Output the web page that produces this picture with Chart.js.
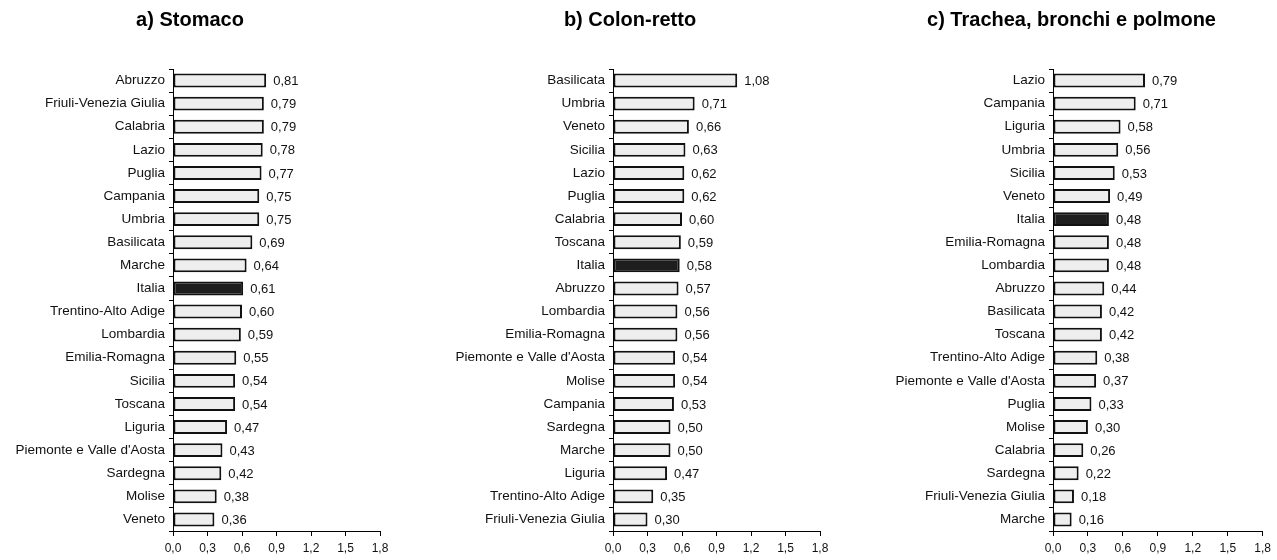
<!DOCTYPE html>
<html>
<head>
<meta charset="utf-8">
<script src="https://cdn.jsdelivr.net/npm/chart.js@4.4.1/dist/chart.umd.min.js"></script>
<style>
  html, body { margin: 0; padding: 0; background: #fff; }
  body { width: 1277px; height: 560px; position: relative; overflow: hidden; }
  canvas { position: absolute; top: 0; }
</style>
</head>
<body>
<canvas id="cStomaco" width="400" height="560" style="left:0px"></canvas>
<canvas id="cColon" width="400" height="560" style="left:440px"></canvas>
<canvas id="cPolmone" width="396" height="560" style="left:880px"></canvas>
<script>
// a) Stomaco
const stomacoRegions = ['Abruzzo', 'Friuli-Venezia Giulia', 'Calabria', 'Lazio', 'Puglia', 'Campania',
  'Umbria', 'Basilicata', 'Marche', 'Italia', 'Trentino-Alto Adige', 'Lombardia', 'Emilia-Romagna',
  'Sicilia', 'Toscana', 'Liguria', "Piemonte e Valle d'Aosta", 'Sardegna', 'Molise', 'Veneto'];
const stomacoValues = [0.81, 0.79, 0.79, 0.78, 0.77, 0.75, 0.75, 0.69, 0.64, 0.61, 0.60, 0.59, 0.55,
  0.54, 0.54, 0.47, 0.43, 0.42, 0.38, 0.36];

// b) Colon-retto
const colonRegions = ['Basilicata', 'Umbria', 'Veneto', 'Sicilia', 'Lazio', 'Puglia', 'Calabria',
  'Toscana', 'Italia', 'Abruzzo', 'Lombardia', 'Emilia-Romagna', "Piemonte e Valle d'Aosta", 'Molise',
  'Campania', 'Sardegna', 'Marche', 'Liguria', 'Trentino-Alto Adige', 'Friuli-Venezia Giulia'];
const colonValues = [1.08, 0.71, 0.66, 0.63, 0.62, 0.62, 0.60, 0.59, 0.58, 0.57, 0.56, 0.56, 0.54,
  0.54, 0.53, 0.50, 0.50, 0.47, 0.35, 0.30];

// c) Trachea, bronchi e polmone
const polmoneRegions = ['Lazio', 'Campania', 'Liguria', 'Umbria', 'Sicilia', 'Veneto', 'Italia',
  'Emilia-Romagna', 'Lombardia', 'Abruzzo', 'Basilicata', 'Toscana', 'Trentino-Alto Adige',
  "Piemonte e Valle d'Aosta", 'Puglia', 'Molise', 'Calabria', 'Sardegna', 'Friuli-Venezia Giulia', 'Marche'];
const polmoneValues = [0.79, 0.71, 0.58, 0.56, 0.53, 0.49, 0.48, 0.48, 0.48, 0.44, 0.42, 0.42, 0.38,
  0.37, 0.33, 0.30, 0.26, 0.22, 0.18, 0.16];

const xTickValues = [0, 0.3, 0.6, 0.9, 1.2, 1.5, 1.8];
const panelTitles = ['a) Stomaco', 'b) Colon-retto', 'c) Trachea, bronchi e polmone'];

const FONT = "'Liberation Sans', Arial, sans-serif";
const fmt = (v, d) => v.toFixed(d).replace('.', ',');

// writes each bar's value just past its end
const valueLabels = {
  id: 'valueLabels',
  afterDatasetsDraw(chart) {
    const ctx = chart.ctx;
    const meta = chart.getDatasetMeta(0);
    const data = chart.data.datasets[0].data;
    ctx.save();
    ctx.font = '13px ' + FONT;
    ctx.fillStyle = '#111';
    ctx.textAlign = 'left';
    ctx.textBaseline = 'middle';
    meta.data.forEach((bar, i) => {
      ctx.fillText(fmt(data[i], 2), bar.x + 7, bar.y + 1);
    });
    ctx.restore();
  }
};

function makePanel(id, title, regions, values, padRight) {
  new Chart(document.getElementById(id), {
    type: 'bar',
    data: {
      labels: regions,
      datasets: [{
        data: values,
        backgroundColor: regions.map(r => r === 'Italia' ? '#1e1e1e' : '#eeeeee'),
        borderColor: '#111',
        borderWidth: 2,
        borderSkipped: false,
        barPercentage: 0.6,
        categoryPercentage: 1
      }]
    },
    options: {
      indexAxis: 'y',
      responsive: false,
      animation: false,
      devicePixelRatio: 1,
      layout: { padding: { left: 0, right: padRight, top: 0, bottom: 0 } },
      plugins: {
        legend: { display: false },
        tooltip: { enabled: false },
        title: {
          display: true,
          text: title,
          color: '#000',
          font: { family: FONT, size: 20, weight: 'bold', lineHeight: 1.2 },
          padding: { top: 8, bottom: 37 }
        }
      },
      scales: {
        x: {
          min: 0,
          max: 1.8,
          afterBuildTicks: s => { s.ticks = xTickValues.map(v => ({ value: v })); },
          afterFit: s => { s.height = 29; },
          border: { display: true, color: '#000', width: 1 },
          grid: { display: true, drawOnChartArea: false, drawTicks: true, tickLength: 5, color: '#000' },
          ticks: {
            padding: 5,
            color: '#111',
            font: { family: FONT, size: 12 },
            maxRotation: 0,
            callback: v => fmt(v, 1)
          }
        },
        y: {
          afterFit: s => { s.width = 173; },
          border: { display: true, color: '#000', width: 1 },
          grid: { display: true, offset: true, drawOnChartArea: false, drawTicks: true, tickLength: 4, color: '#000' },
          ticks: {
            padding: 4,
            color: '#111',
            autoSkip: false,
            font: { family: FONT, size: 13.5 }
          }
        }
      }
    },
    plugins: [valueLabels]
  });
}

makePanel('cStomaco', panelTitles[0], stomacoRegions, stomacoValues, 20);
makePanel('cColon', panelTitles[1], colonRegions, colonValues, 20);
makePanel('cPolmone', panelTitles[2], polmoneRegions, polmoneValues, 13);
</script>
</body>
</html>
